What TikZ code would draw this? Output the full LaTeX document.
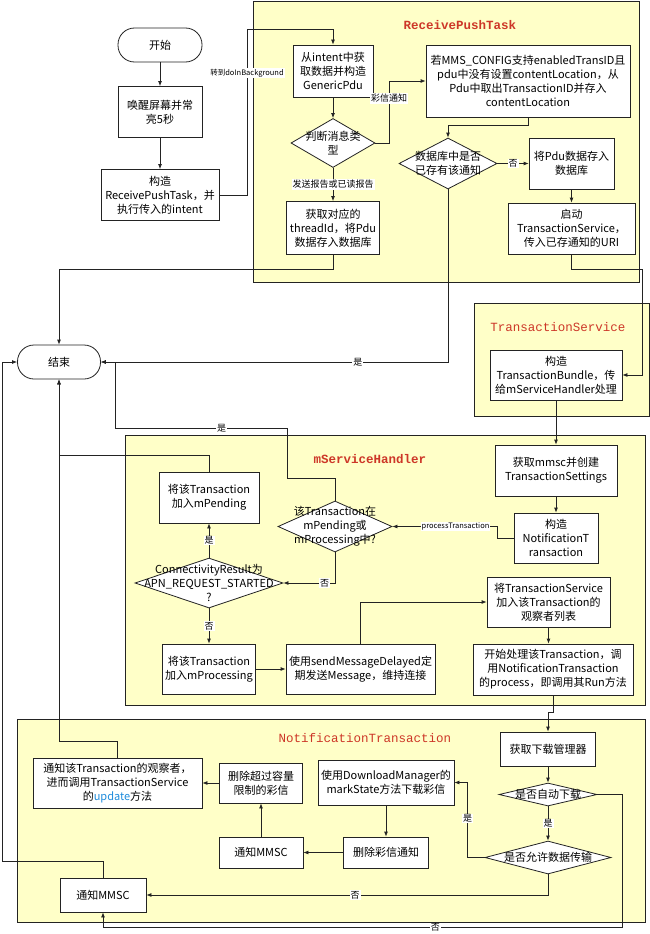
\documentclass[tikz,border=0pt]{standalone}
\usepackage{fontspec}
\setmainfont{Noto Sans CJK SC}
\newfontfamily\titlefont{Liberation Mono}
\usepackage{xcolor}
\usepackage{tikz}
\usetikzlibrary{shapes.geometric,arrows.meta,positioning,calc}
\definecolor{panelfill}{RGB}{255,255,200}
\definecolor{titlered}{RGB}{205,55,40}
\definecolor{updblue}{RGB}{30,140,220}
\definecolor{linegray}{RGB}{35,35,35}

\begin{document}
\begin{tikzpicture}[x=1pt, y=-1pt,
    panel/.style={draw=linegray, fill=panelfill, line width=0.7pt},
    ptitle/.style={text=titlered, font=\titlefont\fontsize{12.5}{14}\selectfont},
    sz/.style 2 args={minimum width=#1pt, minimum height=#2pt},
    box/.style={draw=linegray, fill=white, line width=0.8pt, align=center, inner sep=1pt, font=\fontsize{11}{14}\selectfont},
    term/.style={box, rounded corners=16.5pt},
    dec/.style={diamond, draw=linegray, fill=white, line width=0.8pt, inner sep=0pt},
    dtext/.style={align=center, inner sep=0pt, font=\fontsize{11}{14}\selectfont},
    flow/.style={draw=linegray, line width=0.8pt, -{Latex[length=5pt,width=4pt]}},
    lbl/.style={fill=white, inner sep=1pt, font=\fontsize{9}{10}\selectfont},
    smalllbl/.style={fill=white, inner sep=1pt, font=\fontsize{7.5}{9}\selectfont}]
    \useasboundingbox (0,0) rectangle (650,934);

    % Panels
    \draw[panel] (253,1) rectangle (639,282);
    \draw[panel] (474,303) rectangle (649,416);
    \draw[panel] (125,435) rectangle (645,705);
    \draw[panel] (17,719) rectangle (645,922);
    \node[ptitle, font=\titlefont\bfseries\fontsize{12.5}{14}\selectfont] (tReceive) at (460,25) {ReceivePushTask};
    \node[ptitle] (tService) at (558,327) {TransactionService};
    \node[ptitle, font=\titlefont\bfseries\fontsize{12.5}{14}\selectfont] (tHandler) at (370,459) {mServiceHandler};
    \node[ptitle] (tNotif) at (365,738) {NotificationTransaction};

    % Start column
    \node[term, sz={84}{34}] (start) at (160,45) {开始};
    \node[box, sz={84}{51}] (wake) at (160,112) {唤醒屏幕并常\\亮5秒};
    \node[box, sz={118}{51}] (build) at (160,195) {构造\\ReceivePushTask，并\\执行传入的intent};
    \node[term, sz={83}{34}] (end) at (59,362) {结束};

    % ReceivePushTask
    \node[box, sz={80}{52}] (fromIntent) at (333,71) {从intent中获\\取数据并构造\\GenericPdu};
    \node[dec, sz={84}{49}, label={[dtext]center:判断消息类\\型}] (msgType) at (333,143) {};
    \node[box, sz={93}{53}] (threadId) at (333,228) {获取对应的\\threadId，将Pdu\\数据存入数据库};
    \node[box, sz={204}{72}] (mmsConf) at (528,81) {若MMS\_CONFIG支持enabledTransID且\\pdu中没有设置contentLocation，从\\Pdu中取出TransactionID并存入\\contentLocation};
    \node[dec, sz={98}{51}, label={[dtext]center:数据库中是否\\已存有该通知}] (dbExist) at (448,163.5) {};
    \node[box, sz={85}{51}] (savePdu) at (571.5,163.5) {将Pdu数据存入\\数据库};
    \node[box, sz={127}{51}] (startTS) at (571.5,228.5) {启动\\TransactionService，\\传入已存通知的URI};

    % TransactionService
    \node[box, sz={132}{50}] (bundle) at (556,375) {构造\\TransactionBundle，传\\给mServiceHandler处理};

    % mServiceHandler
    \node[box, sz={122}{51}] (mmsc) at (556,470.5) {获取mmsc并创建\\TransactionSettings};
    \node[box, sz={84}{50}] (notifT) at (556,538) {构造\\NotificationT\\ransaction};
    \node[dec, sz={114}{51}, label={[dtext]center:该Transaction在\\mPending或\\mProcessing中?}] (inPend) at (335,526.5) {};
    \node[box, sz={100}{51}] (pending) at (209,497.5) {将该Transaction\\加入mPending};
    \node[dec, sz={148}{50}, label={[dtext]center:ConnectivityResult为\\APN\_REQUEST\_STARTED\\?}] (apn) at (209,583) {};
    \node[box, sz={93}{50}] (processing) at (209,669) {将该Transaction\\加入mProcessing};
    \node[box, sz={149}{50}] (keepAlive) at (360.5,669) {使用sendMessageDelayed定\\期发送Message，维持连接};
    \node[box, sz={123}{50}] (observer) at (548.5,602) {将TransactionService\\加入该Transaction的\\观察者列表};
    \node[box, sz={160}{51}] (runTx) at (553,669.5) {开始处理该Transaction，调\\用NotificationTransaction\\的process，即调用其Run方法};

    % NotificationTransaction
    \node[box, sz={95}{34}] (dlMgr) at (548,749) {获取下载管理器};
    \node[dec, sz={98}{23}, label={[dtext]center:是否自动下载}] (autoDl) at (548,794.5) {};
    \node[dec, sz={126}{33}, label={[dtext]center:是否允许数据传输}] (allowData) at (548,857.5) {};
    \node[box, sz={136}{45}] (download) at (386,782.5) {使用DownloadManager的\\markState方法下载彩信};
    \node[box, sz={85}{31}] (delNotif) at (386,852.5) {删除彩信通知};
    \node[box, sz={84}{31}] (notifyA) at (261,852.5) {通知MMSC};
    \node[box, sz={83}{40}] (delOver) at (261,783) {删除超过容量\\限制的彩信};
    \node[box, sz={169}{50}] (notifyObs) at (117.5,783) {通知该Transaction的观察者，\\进而调用TransactionService\\的\textcolor{updblue}{update}方法};
    \node[box, sz={86}{34}] (notifyB) at (103,895) {通知MMSC};

    % Connectors
    \draw[flow] (start) -- (wake);
    \draw[flow] (wake) -- (build);
    \draw[flow] (build.east) -| (247,29) -| (fromIntent.north);
    \node[smalllbl] (lGo) at (247,73) {转到doInBackground};
    \draw[flow] (fromIntent) -- (msgType);
    \draw[flow] (msgType.east) -- (389,143) |- node[lbl, pos=0.36] (lMms) {彩信通知} (mmsConf.west);
    \draw[flow] (msgType) -- node[lbl] (lReport) {发送报告或已读报告} (threadId);
    \draw[flow] (threadId.south) -- ++(0,14) -| (end.north);
    \draw[flow] (mmsConf.south) -- ++(0,8) -| (dbExist.north);
    \draw[flow] (dbExist) -- node[lbl] (lNo1) {否} (savePdu);
    \draw[flow] (savePdu) -- (startTS);
    \draw[flow] (startTS.south) -- ++(0,14.5) -| ($(bundle.east)+(20,0)$) -- (bundle.east);
    \draw[flow] (dbExist.south) |- node[lbl, pos=0.63] (lYes1) {是} (end.east);
    \draw[flow] (bundle) -- (mmsc);
    \draw[flow] (mmsc) -- (notifT);
    \draw[flow] (notifT.west) -- ++(-16,0) |- node[smalllbl, pos=0.7] (lProc) {processTransaction} (inPend.east);
    \draw[flow] (inPend.north) |- (287,478) |- node[lbl, pos=0.69] (lYes2) {是} (115,428) |- (end.east);
    \draw[flow] (pending.north) -- ++(0,-16) -| (end.south);
    \draw[flow] (apn) -- node[lbl] (lYes3) {是} (pending);
    \draw[flow] (inPend.south) |- node[lbl, pos=0.6] (lNo2) {否} (apn.east);
    \draw[flow] (apn) -- node[lbl] (lNo3) {否} (processing);
    \draw[flow] (processing) -- (keepAlive);
    \draw[flow] (keepAlive.north) |- (observer.west);
    \draw[flow] (observer.south) -- (observer.south |- runTx.north);
    \draw[flow] (runTx.south) -- ++(0,16.5) -| (dlMgr.north);
    \draw[flow] (dlMgr) -- (autoDl);
    \draw[flow] (autoDl) -- node[lbl] (lYes4) {是} (allowData);
    \draw[flow] (allowData.west) -- ++(-17,0) |- node[lbl, pos=0.26] (lYes5) {是} (download.east);
    \draw[flow] (download) -- (delNotif);
    \draw[flow] (delNotif) -- (notifyA);
    \draw[flow] (notifyA) -- (delOver);
    \draw[flow] (delOver) -- (notifyObs);
    \draw[flow] (notifyObs.north) -- ++(0,-16) -| (end.south);
    \draw[flow] (notifyB.north) -- ++(0,-16) -| ($(end.west)+(-15,0)$) -- (end.west);
    \draw[flow] (allowData.south) |- node[lbl, pos=0.74] (lNo4) {否} (notifyB.east);
    \draw[flow] (autoDl.east) -- ++(25,0) |- node[lbl, pos=0.68] (lNo5) {否} ($(notifyB.south)+(0,15)$) -- (notifyB.south);
\end{tikzpicture}
\end{document}
